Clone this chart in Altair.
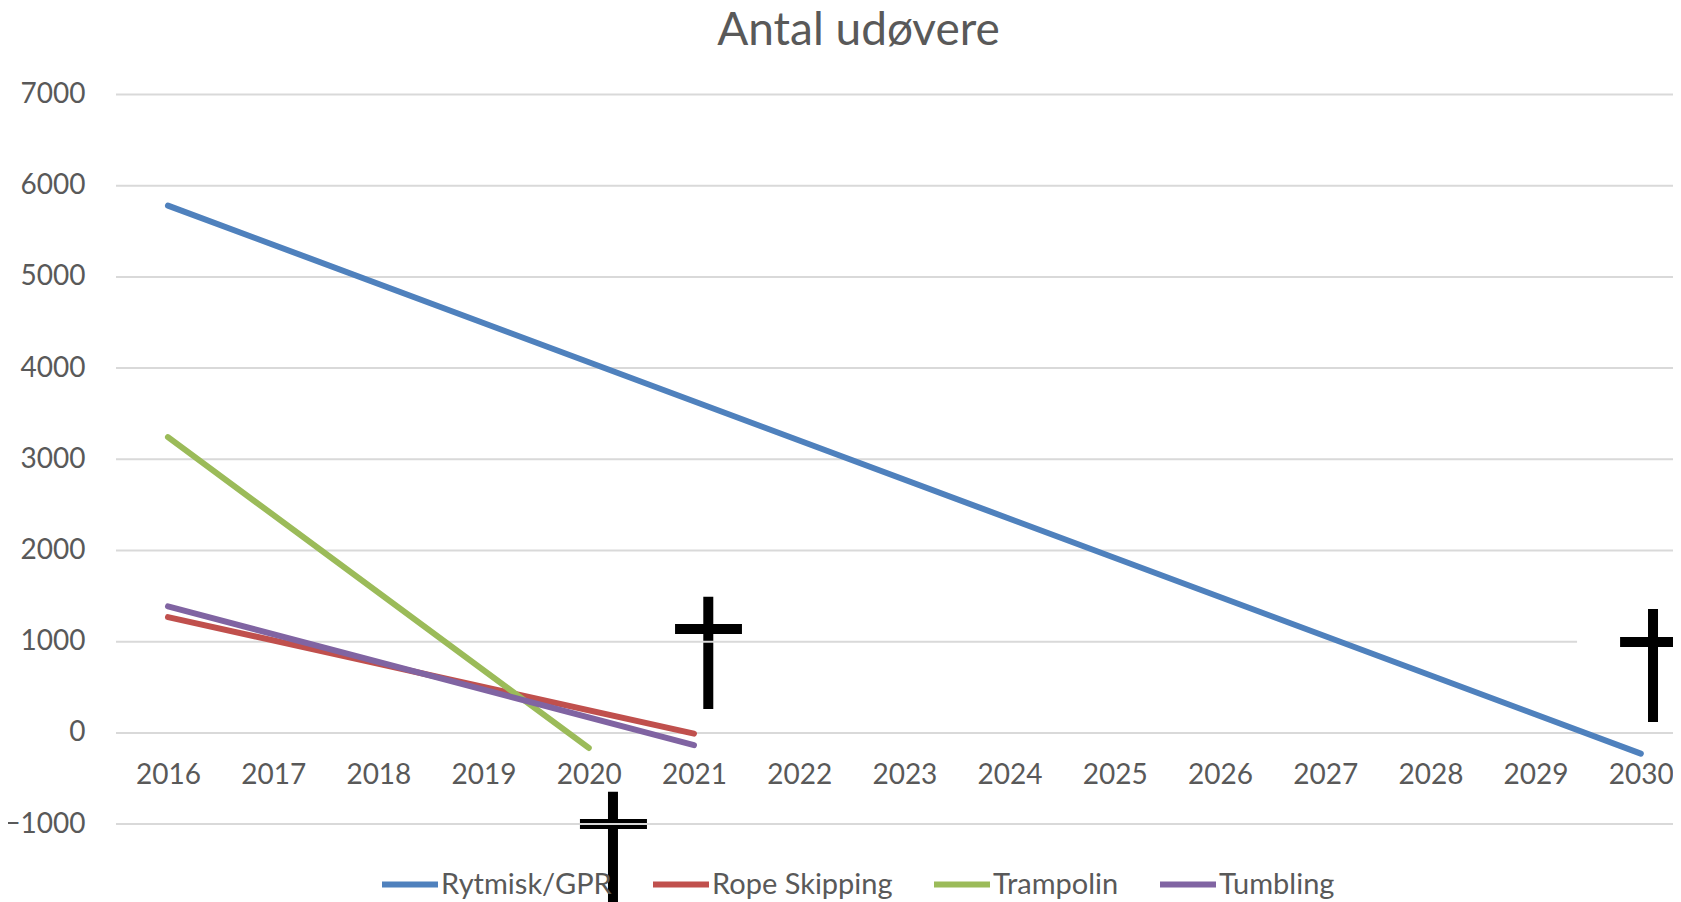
import altair as alt
import pandas as pd

series_names = ["Rytmisk/GPR", "Rope Skipping", "Trampolin", "Tumbling"]
series_colors = ["#4F81BD", "#C0504D", "#9BBB59", "#8064A2"]
series_years = [[2016, 2030], [2016, 2021], [2016, 2020], [2016, 2021]]
series_values = [[5782, -227], [1270, -8], [3243, -165], [1387, -135]]

years = list(range(2016, 2031))
y_ticks = [-1000, 0, 1000, 2000, 3000, 4000, 5000, 6000, 7000]
X_DOM = [2015.506, 2030.306]
Y_DOM = [-1854, 7000]
TEXT = "#595959"
FONT = "Lato"

lines = pd.DataFrame(
    [
        {"Serie": n, "year": yr, "value": v}
        for n, ys_, vs in zip(series_names, series_years, series_values)
        for yr, v in zip(ys_, vs)
    ]
)
grid = pd.DataFrame({"v": y_ticks, "x0": X_DOM[0], "x1": X_DOM[1]})
mask = pd.DataFrame({"v": [1000], "x0": [2029.394], "x1": [X_DOM[1]]})

# crosses: vertical bar (x, v0, v1), horizontal bar (x0, x1, v)
back_v = pd.DataFrame({"x": [2021.136, 2020.23], "v0": [1494, -644], "v1": [263, -1854]})
back_h = pd.DataFrame({"x0": [2020.82, 2019.916], "x1": [2021.456, 2020.553], "v": [1140, -998]})
front_v = pd.DataFrame({"x": [2030.116], "v0": [1360], "v1": [121]})
front_h = pd.DataFrame({"x0": [2029.803], "x1": [X_DOM[1]], "v": [998]})

xs = alt.Scale(domain=X_DOM, nice=False, zero=False)
ys = alt.Scale(domain=Y_DOM, nice=False, zero=False)

x_axis = alt.Axis(
    values=years, format="d", grid=False, domain=False, ticks=False,
    offset=-169, labelPadding=28, labelFontSize=28, labelColor=TEXT,
    labelFont=FONT, labelFlush=False, labelOverlap=False,
)
y_axis = alt.Axis(
    values=y_ticks, format="d", grid=False, domain=False, ticks=False,
    labelPadding=31, labelFontSize=28, labelColor=TEXT, labelFont=FONT,
    labelOverlap=False,
)


def vbar(df):
    return alt.Chart(df).mark_rule(color="black", strokeWidth=10).encode(
        x=alt.X("x:Q", scale=xs, axis=x_axis, title=None),
        y=alt.Y("v0:Q", scale=ys, axis=y_axis, title=None),
        y2="v1:Q",
    )


def hbar(df, color="black", width=10):
    return alt.Chart(df).mark_rule(color=color, strokeWidth=width).encode(
        x=alt.X("x0:Q", scale=xs, axis=x_axis, title=None),
        x2="x1:Q",
        y=alt.Y("v:Q", scale=ys, axis=y_axis, title=None),
    )


line_layer = alt.Chart(lines).mark_line(strokeWidth=6, strokeCap="round").encode(
    x=alt.X("year:Q", scale=xs, title=None, axis=x_axis),
    y=alt.Y("value:Q", scale=ys, title=None, axis=y_axis),
    color=alt.Color(
        "Serie:N",
        scale=alt.Scale(domain=series_names, range=series_colors),
        title=None,
        legend=alt.Legend(
            orient="none", legendX=263, legendY=759, direction="horizontal",
            columns=4, columnPadding=29, symbolType="stroke", symbolSize=3136,
            symbolStrokeWidth=6, labelFontSize=29, labelColor=TEXT, labelFont=FONT,
            labelOffset=0, labelLimit=400,
        ),
    ),
    order="year:Q",
)

chart = alt.layer(
    vbar(back_v),
    hbar(back_h),
    hbar(grid, color="#D9D9D9", width=2),
    hbar(mask, color="white", width=4),
    vbar(front_v),
    hbar(front_h),
    line_layer,
).properties(
    width=1557,
    height=807.5,
    padding={"left": 108, "top": 86.5, "right": 0, "bottom": 0},
    autosize=alt.AutoSizeParams(type="none"),
    title=alt.TitleParams(
        "Antal udøvere", fontSize=46, font=FONT, fontWeight="normal", color=TEXT,
        anchor="middle", dx=-36, offset=26,
    ),
).configure_view(stroke=None)

chart.save("out.html", embed_options={"renderer": "svg", "actions": False})
